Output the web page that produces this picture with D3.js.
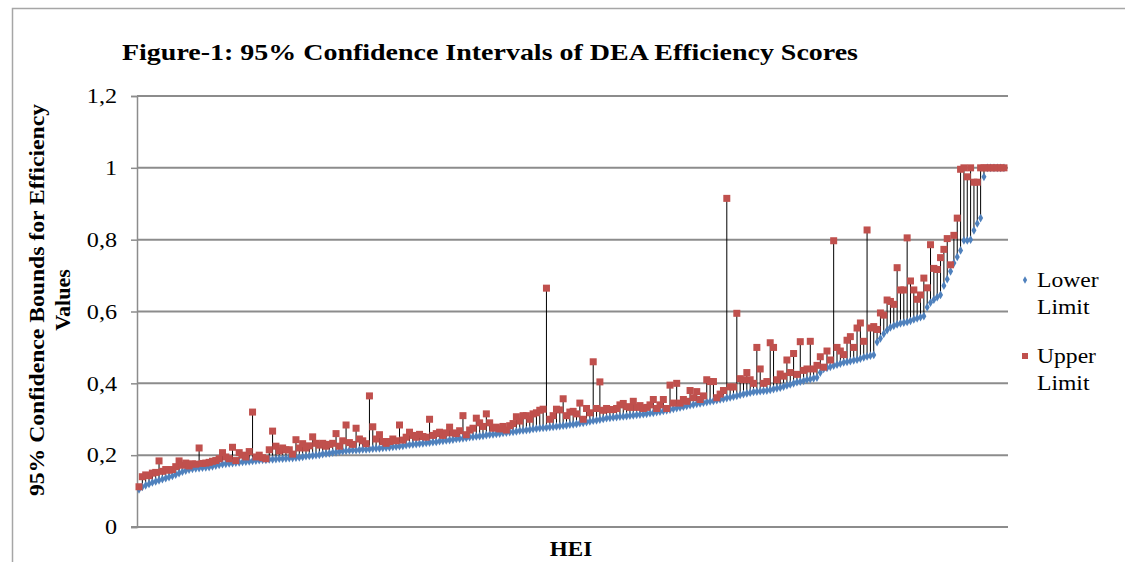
<!DOCTYPE html>
<html>
<head>
<meta charset="utf-8">
<script src="https://cdn.jsdelivr.net/npm/d3@7"></script>
<style>
  body { margin: 0; background: #fff; }
  svg text { font-family: "Liberation Serif", "Times New Roman", serif !important; }
</style>
</head>
<body>
<svg id="chart" width="1125" height="562"></svg>
<script>
// lower / upper bounds of the 95% CI, HEIs sorted by lower bound
const lower = [
  .105, .112, .116, .12, .124, .127, .13, .133, .136, .139,
  .142, .146, .15, .154, .157, .16, .162, .163, .164, .165,
  .166, .167, .169, .171, .173, .175, .176, .177, .178, .179,
  .18, .181, .182, .183, .184, .185, .186, .187, .187, .188,
  .188, .189, .19, .19, .191, .192, .192, .193, .194, .195,
  .197, .198, .199, .2, .201, .203, .204, .205, .207, .208,
  .21, .211, .212, .213, .214, .214, .215, .216, .216, .217,
  .218, .219, .219, .22, .221, .222, .223, .224, .225, .226,
  .228, .229, .23, .231, .232, .233, .234, .235, .236, .237,
  .239, .24, .241, .242, .243, .245, .246, .247, .248, .25,
  .251, .252, .253, .254, .256, .257, .258, .259, .26, .262,
  .263, .264, .265, .266, .268, .269, .27, .271, .273, .274,
  .275, .276, .277, .278, .279, .28, .281, .282, .283, .285,
  .286, .287, .289, .29, .292, .294, .296, .297, .299, .301,
  .303, .304, .305, .306, .307, .308, .309, .31, .311, .312,
  .313, .314, .315, .317, .318, .32, .321, .323, .325, .327,
  .329, .331, .333, .335, .337, .339, .341, .343, .344, .346,
  .348, .35, .351, .353, .355, .357, .359, .361, .363, .365,
  .368, .37, .372, .374, .376, .377, .378, .379, .38, .382,
  .384, .386, .388, .391, .394, .397, .4, .403, .405, .407,
  .41, .412, .414, .416, .43, .44, .443, .446, .449, .452,
  .455, .458, .46, .462, .464, .466, .469, .472, .475, .477,
  .479, .515, .525, .538, .548, .556, .56, .564, .567, .569,
  .571, .574, .578, .581, .584, .587, .612, .625, .633, .64,
  .646, .672, .69, .712, .735, .752, .77, .798, .798, .8,
  .826, .845, .86, .975, 1, 1, 1, 1, 1, 1
];
const upper = [
  .112, .14, .145, .143, .15, .152, .184, .155, .16, .158,
  .16, .168, .184, .172, .178, .17, .176, .175, .22, .177,
  .178, .18, .183, .185, .19, .207, .195, .19, .222, .185,
  .207, .2, .195, .21, .32, .195, .2, .193, .19, .215,
  .267, .225, .212, .22, .215, .215, .203, .243, .22, .232,
  .22, .226, .251, .233, .228, .233, .225, .23, .233, .26,
  .225, .24, .284, .235, .23, .275, .245, .24, .232, .365,
  .279, .245, .257, .238, .233, .238, .245, .24, .284, .242,
  .25, .264, .255, .25, .258, .252, .25, .3, .255, .26,
  .264, .255, .262, .278, .262, .26, .268, .31, .257, .27,
  .275, .303, .29, .28, .315, .29, .275, .278, .273, .28,
  .27, .282, .288, .307, .295, .31, .31, .3, .315, .318,
  .325, .328, .665, .3, .31, .328, .326, .357, .31, .32,
  .322, .315, .345, .3, .33, .318, .46, .33, .404, .325,
  .33, .327, .327, .33, .34, .344, .335, .333, .35, .333,
  .338, .33, .333, .34, .355, .33, .34, .355, .33, .395,
  .345, .4, .345, .355, .35, .38, .36, .377, .355, .365,
  .41, .405, .405, .36, .37, .38, .915, .39, .39, .595,
  .413, .41, .43, .41, .4, .5, .44, .4, .405, .513,
  .5, .41, .426, .42, .465, .43, .483, .425, .516, .436,
  .44, .517, .44, .45, .474, .445, .49, .465, .797, .5,
  .49, .48, .52, .53, .5, .554, .568, .517, .827, .554,
  .558, .55, .596, .59, .632, .628, .62, .722, .66, .66,
  .805, .685, .66, .634, .646, .693, .666, .786, .72, .717,
  .75, .773, .803, .73, .812, .86, .996, 1, .975, 1,
  .96, .96, 1, 1, 1, 1, 1, 1, 1, 1
];
const yTicks = [0, 0.2, 0.4, 0.6, 0.8, 1, 1.2];
const yTickLabels = ["0", "0,2", "0,4", "0,6", "0,8", "1", "1,2"];
const seriesNames = ["Lower Limit", "Upper Limit"];
const colors = ["#4F81BD", "#C0504D"];

const heis = d3.range(1, lower.length + 1);
const rows = heis.map((h, i) => ({ hei: h, lo: lower[i], hi: upper[i] }));

const svg = d3.select("#chart");
const margin = { left: 137, right: 117, top: 96, bottom: 35 };
const W = 1125, H = 562;
const plotW = W - margin.left - margin.right;
const plotH = H - margin.top - margin.bottom;
const serif = '"Liberation Serif", "Times New Roman", serif';

// the picture is a bit wider than tall, so stretch text sideways
function widen(sel, k) {
  sel.each(function () {
    const len = this.getComputedTextLength();
    d3.select(this).attr("textLength", len * k).attr("lengthAdjust", "spacingAndGlyphs");
  });
}

// outer chart frame
svg.append("path")
  .attr("d", `M12.5,${H} V8.5 H${W}`)
  .attr("fill", "none")
  .attr("stroke", "#a6a6a6")
  .attr("stroke-width", 1.5);

const x = d3.scalePoint()
  .domain(heis)
  .range([2, plotW - 4]);

const y = d3.scaleLinear()
  .domain([0, 1.2])
  .range([plotH, 0]);

const g = svg.append("g")
  .attr("transform", `translate(${margin.left},${margin.top})`);

// gridlines
g.append("g")
  .selectAll("line")
  .data(yTicks.filter((d) => d > 0))
  .join("line")
  .attr("x1", 0)
  .attr("x2", plotW)
  .attr("y1", (d) => y(d))
  .attr("y2", (d) => y(d))
  .attr("stroke", "#8c8c8c")
  .attr("stroke-width", 2);

// y axis
const yAxis = g.append("g")
  .call(d3.axisLeft(y).tickValues(yTicks).tickSize(6).tickPadding(14)
    .tickFormat((d, i) => yTickLabels[i]));
yAxis.attr("font-family", serif);
yAxis.select(".domain").attr("stroke", "#8c8c8c").attr("stroke-width", 1.5);
yAxis.selectAll(".tick line").attr("stroke", "#8c8c8c").attr("stroke-width", 1.5);
yAxis.selectAll(".tick text")
  .attr("fill", "#000")
  .style("font-family", serif)
  .style("font-size", "21px")
  .call(widen, 1.15);

// x axis line
g.append("line")
  .attr("x1", -6)
  .attr("x2", plotW)
  .attr("y1", plotH)
  .attr("y2", plotH)
  .attr("stroke", "#8c8c8c")
  .attr("stroke-width", 2);

// high-low lines
g.append("g")
  .selectAll("line")
  .data(rows)
  .join("line")
  .attr("x1", (d) => x(d.hei))
  .attr("x2", (d) => x(d.hei))
  .attr("y1", (d) => y(d.lo))
  .attr("y2", (d) => y(d.hi))
  .attr("stroke", "#000")
  .attr("stroke-width", 1);

// lower limit markers
g.append("g")
  .selectAll("path")
  .data(rows)
  .join("path")
  .attr("d", d3.symbol(d3.symbolDiamond, 22))
  .attr("transform", (d) => `translate(${x(d.hei)},${y(d.lo)})`)
  .attr("fill", colors[0]);

// upper limit markers
g.append("g")
  .selectAll("rect")
  .data(rows)
  .join("rect")
  .attr("x", (d) => x(d.hei) - 3.5)
  .attr("y", (d) => y(d.hi) - 3.5)
  .attr("width", 7)
  .attr("height", 7)
  .attr("fill", colors[1]);

// title
svg.append("text")
  .attr("x", 122)
  .attr("y", 60)
  .attr("textLength", 736)
  .attr("lengthAdjust", "spacingAndGlyphs")
  .style("font-family", serif)
  .style("font-size", "24px")
  .style("font-weight", "bold")
  .text("Figure-1: 95% Confidence Intervals of DEA Efficiency Scores");

// axis titles
svg.append("text")
  .attr("x", 571)
  .attr("y", 556)
  .attr("text-anchor", "middle")
  .style("font-family", serif)
  .style("font-size", "21px")
  .style("font-weight", "bold")
  .text("HEI")
  .call(widen, 1.1);

const yTitle = svg.append("text")
  .attr("transform", "translate(44,300) rotate(-90)")
  .attr("text-anchor", "middle")
  .style("font-family", serif)
  .style("font-size", "22px")
  .style("font-weight", "bold");
yTitle.append("tspan").attr("x", 0).attr("y", 0)
  .attr("textLength", 392)
  .attr("lengthAdjust", "spacingAndGlyphs")
  .text("95% Confidence Bounds for Efficiency");
yTitle.append("tspan").attr("x", 0).attr("y", 26).text("Values");

// legend
const legend = svg.append("g").attr("transform", "translate(1025,280)");
seriesNames.forEach((name, i) => {
  const item = legend.append("g").attr("transform", `translate(0,${i * 76})`);
  if (i === 0) {
    item.append("path")
      .attr("d", d3.symbol(d3.symbolDiamond, 16))
      .attr("fill", colors[0]);
  } else {
    item.append("rect")
      .attr("x", -3).attr("y", -3)
      .attr("width", 6).attr("height", 6)
      .attr("fill", colors[1]);
  }
  const words = name.split(" ");
  words.forEach((w, j) => {
    item.append("text")
      .attr("x", 12)
      .attr("y", 7 + j * 27)
      .style("font-family", serif)
      .style("font-size", "20px")
      .text(w)
      .call(widen, 1.18);
  });
});
</script>
</body>
</html>
